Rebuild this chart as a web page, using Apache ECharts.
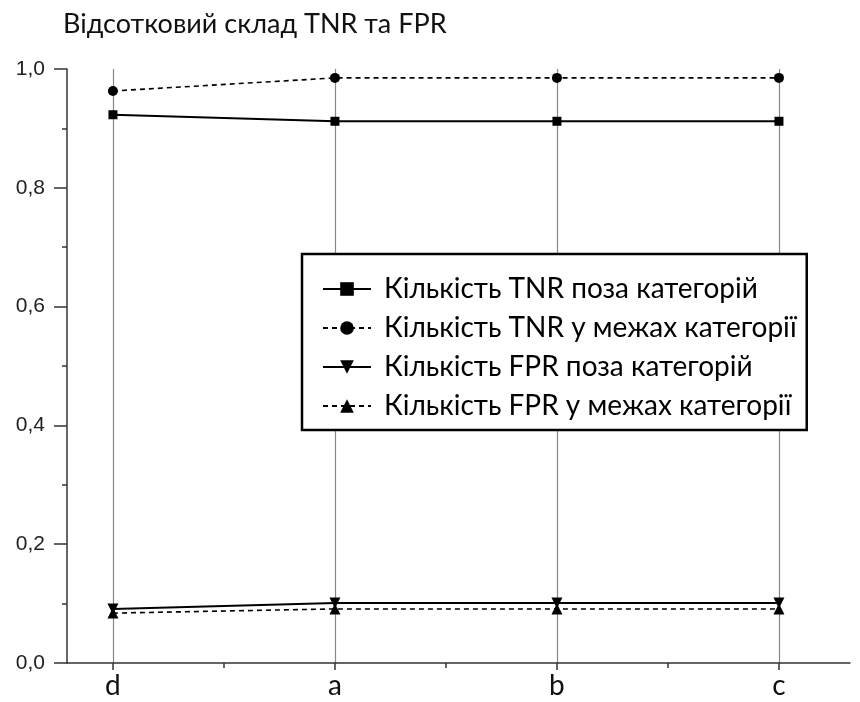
<!DOCTYPE html>
<html>
<head>
<meta charset="utf-8">
<script src="https://cdn.jsdelivr.net/npm/echarts@6/dist/echarts.min.js"></script>
<style>
  html, body { margin: 0; padding: 0; background: #fff; }
  #main { width: 860px; height: 702px; }
</style>
</head>
<body>
<div id="main"></div>
<script type="text/javascript">
    // категорії по осі X (позиції 0..3)
    var categories = ['d', 'a', 'b', 'c'];
    var catPos = [0, 1, 2, 3];
    var minorPos = [0.5, 1.5, 2.5];

    // значення рядів
    var tnrOutside = [0.923, 0.912, 0.912, 0.912];
    var tnrInside  = [0.963, 0.985, 0.985, 0.985];
    var fprOutside = [0.091, 0.101, 0.101, 0.101];
    var fprInside  = [0.084, 0.091, 0.091, 0.091];

    var seriesNames = [
        'Кількість TNR поза категорій',
        'Кількість TNR у межах категорії',
        'Кількість FPR поза категорій',
        'Кількість FPR у межах категорії'
    ];

    function pairs(vals) {
        var out = [];
        for (var i = 0; i < vals.length; i++) {
            out.push([catPos[i], vals[i]]);
        }
        return out;
    }

    var myChart = echarts.init(document.getElementById('main'));

    var solid = { color: '#000', width: 2, type: 'solid' };
    var dashed = { color: '#000', width: 1.6, type: [5, 4] };

    myChart.setOption({
        animation: false,
        backgroundColor: '#fff',
        title: {
            text: 'Відсотковий склад TNR та FPR',
            left: 58,
            top: 6,
            textStyle: { fontFamily: 'Lato', fontWeight: 'normal', fontSize: 27, color: '#111' }
        },
        legend: {
            orient: 'vertical',
            left: 302,
            top: 254,
            padding: [20, 10, 9, 20],
            itemWidth: 48,
            itemHeight: 17,
            itemGap: 9,
            backgroundColor: '#fff',
            borderColor: '#000',
            borderWidth: 2.5,
            borderRadius: 0,
            textStyle: { fontFamily: 'Lato', fontSize: 28, color: '#000', lineHeight: 30, padding: [0, 0, 0, 8] },
            data: seriesNames
        },
        grid: { left: 67, right: 10, top: 69, bottom: 39 },
        xAxis: [{
            type: 'value',
            min: -0.207,
            max: 3.32,
            axisLine: { show: true, onZero: false, lineStyle: { color: '#333', width: 1.5 } },
            axisTick: { show: true, inside: false, length: 7, customValues: catPos, lineStyle: { color: '#333', width: 1.5 } },
            axisLabel: {
                customValues: catPos,
                margin: 9,
                fontFamily: 'Lato', fontSize: 28, color: '#111',
                formatter: function (v) { return categories[Math.round(v)]; }
            },
            splitLine: { show: true, lineStyle: { color: '#888', width: 1.2 } }
        }, {
            type: 'value',
            position: 'bottom',
            min: -0.207,
            max: 3.32,
            axisLine: { show: false, onZero: false },
            axisTick: { show: true, inside: false, length: 5, customValues: minorPos, lineStyle: { color: '#333', width: 1.5 } },
            axisLabel: { show: false },
            splitLine: { show: false }
        }],
        yAxis: {
            type: 'value',
            min: 0,
            max: 1,
            interval: 0.2,
            axisLine: { show: true, onZero: false, lineStyle: { color: '#333', width: 1.5 } },
            axisTick: { show: true, inside: false, length: 13, lineStyle: { color: '#333', width: 1.5 } },
            minorTick: { show: true, splitNumber: 2, length: 5, lineStyle: { color: '#333', width: 1.5 } },
            axisLabel: {
                margin: 22,
                fontFamily: 'Liberation Sans', fontSize: 21, color: '#222',
                formatter: function (v) { return v.toFixed(1).replace('.', ','); }
            },
            splitLine: { show: false }
        },
        series: [{
            name: seriesNames[0],
            type: 'line',
            data: pairs(tnrOutside),
            symbol: 'rect',
            symbolSize: 9,
            itemStyle: { color: '#000' },
            lineStyle: solid
        }, {
            name: seriesNames[1],
            type: 'line',
            data: pairs(tnrInside),
            symbol: 'circle',
            symbolSize: 10,
            itemStyle: { color: '#000' },
            lineStyle: dashed
        }, {
            name: seriesNames[2],
            type: 'line',
            data: pairs(fprOutside),
            symbol: 'triangle',
            symbolRotate: 180,
            symbolSize: 11,
            itemStyle: { color: '#000' },
            lineStyle: solid
        }, {
            name: seriesNames[3],
            type: 'line',
            data: pairs(fprInside),
            symbol: 'triangle',
            symbolSize: 11,
            itemStyle: { color: '#000' },
            lineStyle: dashed
        }]
    });
</script>
</body>
</html>
